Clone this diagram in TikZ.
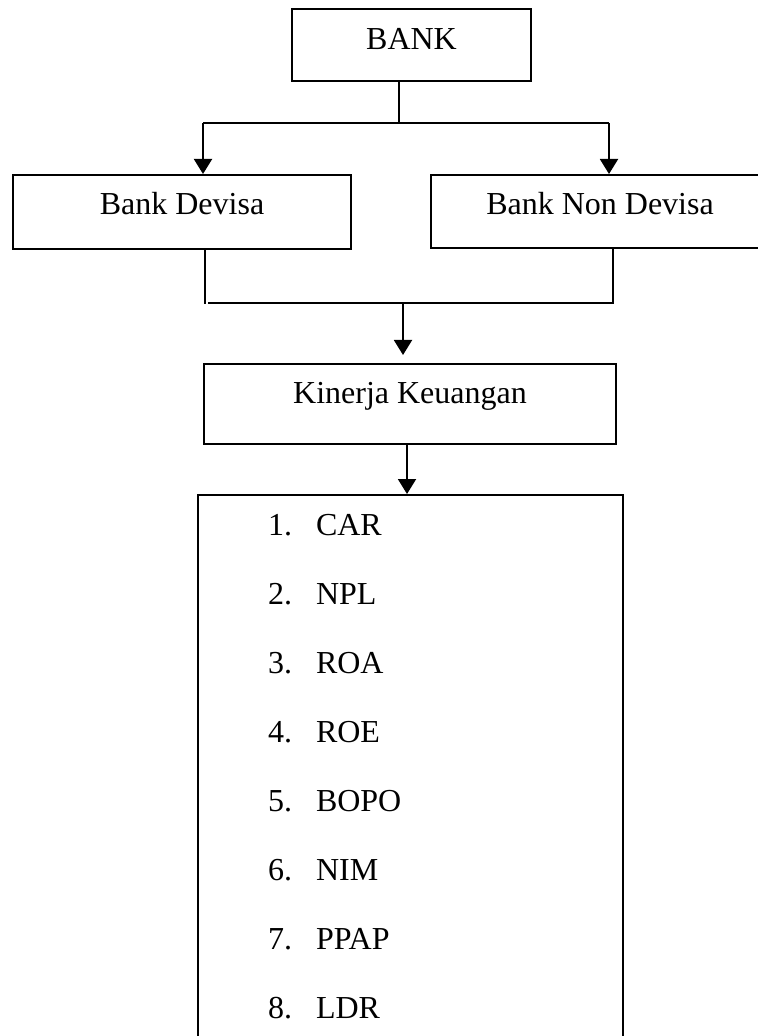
\documentclass[tikz,border=0pt]{standalone}
\usepackage{fontspec}
\setmainfont{Liberation Serif}
\usetikzlibrary{arrows.meta}
\begin{document}
\begin{tikzpicture}[x=0.5pt,y=-0.5pt,
  line width=1pt,
  boxnode/.style={draw, rectangle, inner sep=0pt, anchor=north west,
    font=\fontsize{16pt}{19pt}\selectfont},
  itemnode/.style={anchor=base west, inner sep=0pt,
    font=\fontsize{16pt}{19pt}\selectfont},
  arr/.style={-{Triangle[width=9pt,length=7.5pt]}},
  wire/.style={line cap=rect}
]
\clip (0,0) rectangle (758,1036);

% boxes
\node[boxnode, minimum width=119.5pt, text height=20.5pt, text depth=15.5pt] (bank) at (291,8) {BANK};
\node[boxnode, minimum width=169pt, text height=20pt, text depth=17pt] (dev) at (12,174) {Bank Devisa};
\node[boxnode, minimum width=169pt, text height=20pt, text depth=16.5pt] (nondev) at (430,174) {Bank Non Devisa};
\node[boxnode, minimum width=206pt, text height=20pt, text depth=20pt] (kin) at (203,363) {Kinerja Keuangan};
\node[boxnode, minimum width=212.5pt, minimum height=300pt] (list) at (197,494) {};

% list items
\node[itemnode] (i1) at (267,535) {\makebox[24pt][l]{1.}CAR};
\node[itemnode] (i2) at (267,604) {\makebox[24pt][l]{2.}NPL};
\node[itemnode] (i3) at (267,673) {\makebox[24pt][l]{3.}ROA};
\node[itemnode] (i4) at (267,742) {\makebox[24pt][l]{4.}ROE};
\node[itemnode] (i5) at (267,811) {\makebox[24pt][l]{5.}BOPO};
\node[itemnode] (i6) at (267,880) {\makebox[24pt][l]{6.}NIM};
\node[itemnode] (i7) at (267,949) {\makebox[24pt][l]{7.}PPAP};
\node[itemnode] (i8) at (267,1018) {\makebox[24pt][l]{8.}LDR};

% junction coordinates
\coordinate (j1) at (399,123);
\coordinate (jl) at (203,123);
\coordinate (jr) at (609,123);
\coordinate (kl) at (205,304);
\coordinate (kh) at (208,303);
\coordinate (kr) at (613,303);
\coordinate (km) at (403,303);
\coordinate (kt) at (403,355);
\coordinate (la) at (407,443);

% BANK -> Devisa / Non Devisa
\draw (bank.south -| j1) -- (j1);
\draw (jl) -- (jr);
\draw[arr] (jl) -- (jl |- dev.north);
\draw[arr] (jr) -- (jr |- nondev.north);

% Devisa / Non Devisa -> Kinerja
\draw (dev.south -| kl) -- (kl);
\draw (nondev.south -| kr) -- (kr) -- (kh);
\draw[arr] (km) -- (kt);

% Kinerja -> list
\draw[arr] (kin.south -| la) -- (list.north -| la);
\end{tikzpicture}
\end{document}
